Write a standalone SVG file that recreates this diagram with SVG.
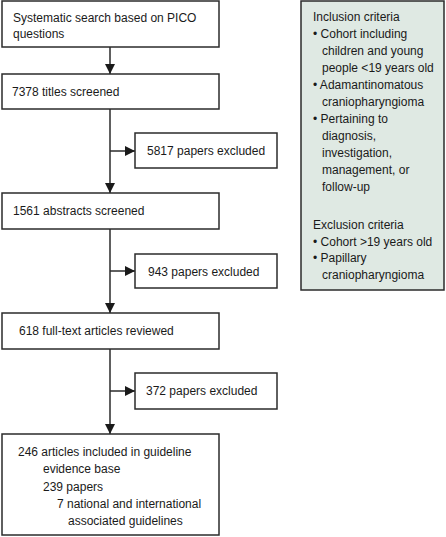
<svg xmlns="http://www.w3.org/2000/svg" width="446" height="537" viewBox="0 0 446 537">
<style>
.box{fill:#fff;stroke:#2b2b2b;stroke-width:1.5}
.crit{fill:#dfe9e3;stroke:#2b2b2b;stroke-width:1.5}
text{font-family:"Liberation Sans",Arial,sans-serif;font-size:12px;fill:#1a1a1a}
.ln{stroke:#2b2b2b;stroke-width:1.5;fill:none}
</style>
<defs>
<marker id="ah" viewBox="0 0 10 10" refX="10" refY="5" markerWidth="10" markerHeight="10" markerUnits="userSpaceOnUse" orient="auto">
<path d="M0,0 L10,5 L0,10 Z" fill="#1a1a1a"/>
</marker>
</defs>
<g id="connectors">
<path class="ln" d="M110,47 V74" marker-end="url(#ah)"/>
<path class="ln" d="M110,109 V193" marker-end="url(#ah)"/>
<path class="ln" d="M110,151 H135" marker-end="url(#ah)"/>
<path class="ln" d="M110,229 V313" marker-end="url(#ah)"/>
<path class="ln" d="M110,271 H135" marker-end="url(#ah)"/>
<path class="ln" d="M110,349 V434" marker-end="url(#ah)"/>
<path class="ln" d="M110,391 H135" marker-end="url(#ah)"/>
</g>
<g id="search">
<rect class="box" x="2" y="1" width="217" height="46"/>
<text x="13" y="22">Systematic search based on PICO</text>
<text x="13" y="38">questions</text>
</g>
<g id="titles">
<rect class="box" x="2" y="74" width="217" height="35"/>
<text x="12" y="96">7378 titles screened</text>
</g>
<g id="excl1">
<rect class="box" x="135" y="133" width="142" height="35"/>
<text x="147" y="155">5817 papers excluded</text>
</g>
<g id="abstracts">
<rect class="box" x="2" y="193" width="217" height="36"/>
<text x="13" y="215">1561 abstracts screened</text>
</g>
<g id="excl2">
<rect class="box" x="135" y="254" width="142" height="34"/>
<text x="148" y="276">943 papers excluded</text>
</g>
<g id="fulltext">
<rect class="box" x="2" y="313" width="217" height="36"/>
<text x="19" y="335">618 full-text articles reviewed</text>
</g>
<g id="excl3">
<rect class="box" x="135" y="373" width="142" height="36"/>
<text x="146" y="395">372 papers excluded</text>
</g>
<g id="included">
<rect class="box" x="2" y="434" width="217" height="101"/>
<text x="18" y="456">246 articles included in guideline</text>
<text x="43" y="473">evidence base</text>
<text x="43" y="491">239 papers</text>
<text x="57" y="508">7 national and international</text>
<text x="68" y="525">associated guidelines</text>
</g>
<g id="criteria">
<rect class="crit" x="301" y="1" width="143" height="289"/>
<text x="313" y="21">Inclusion criteria</text>
<text x="313" y="38">• Cohort including</text>
<text x="322" y="55">children and young</text>
<text x="322" y="72">people &lt;19 years old</text>
<text x="313" y="89">• Adamantinomatous</text>
<text x="322" y="106">craniopharyngioma</text>
<text x="313" y="123">• Pertaining to</text>
<text x="322" y="140">diagnosis,</text>
<text x="322" y="157">investigation,</text>
<text x="322" y="174">management, or</text>
<text x="322" y="191">follow-up</text>
<text x="313" y="229">Exclusion criteria</text>
<text x="313" y="246">• Cohort &gt;19 years old</text>
<text x="313" y="262">• Papillary</text>
<text x="322" y="279">craniopharyngioma</text>
</g>
</svg>
